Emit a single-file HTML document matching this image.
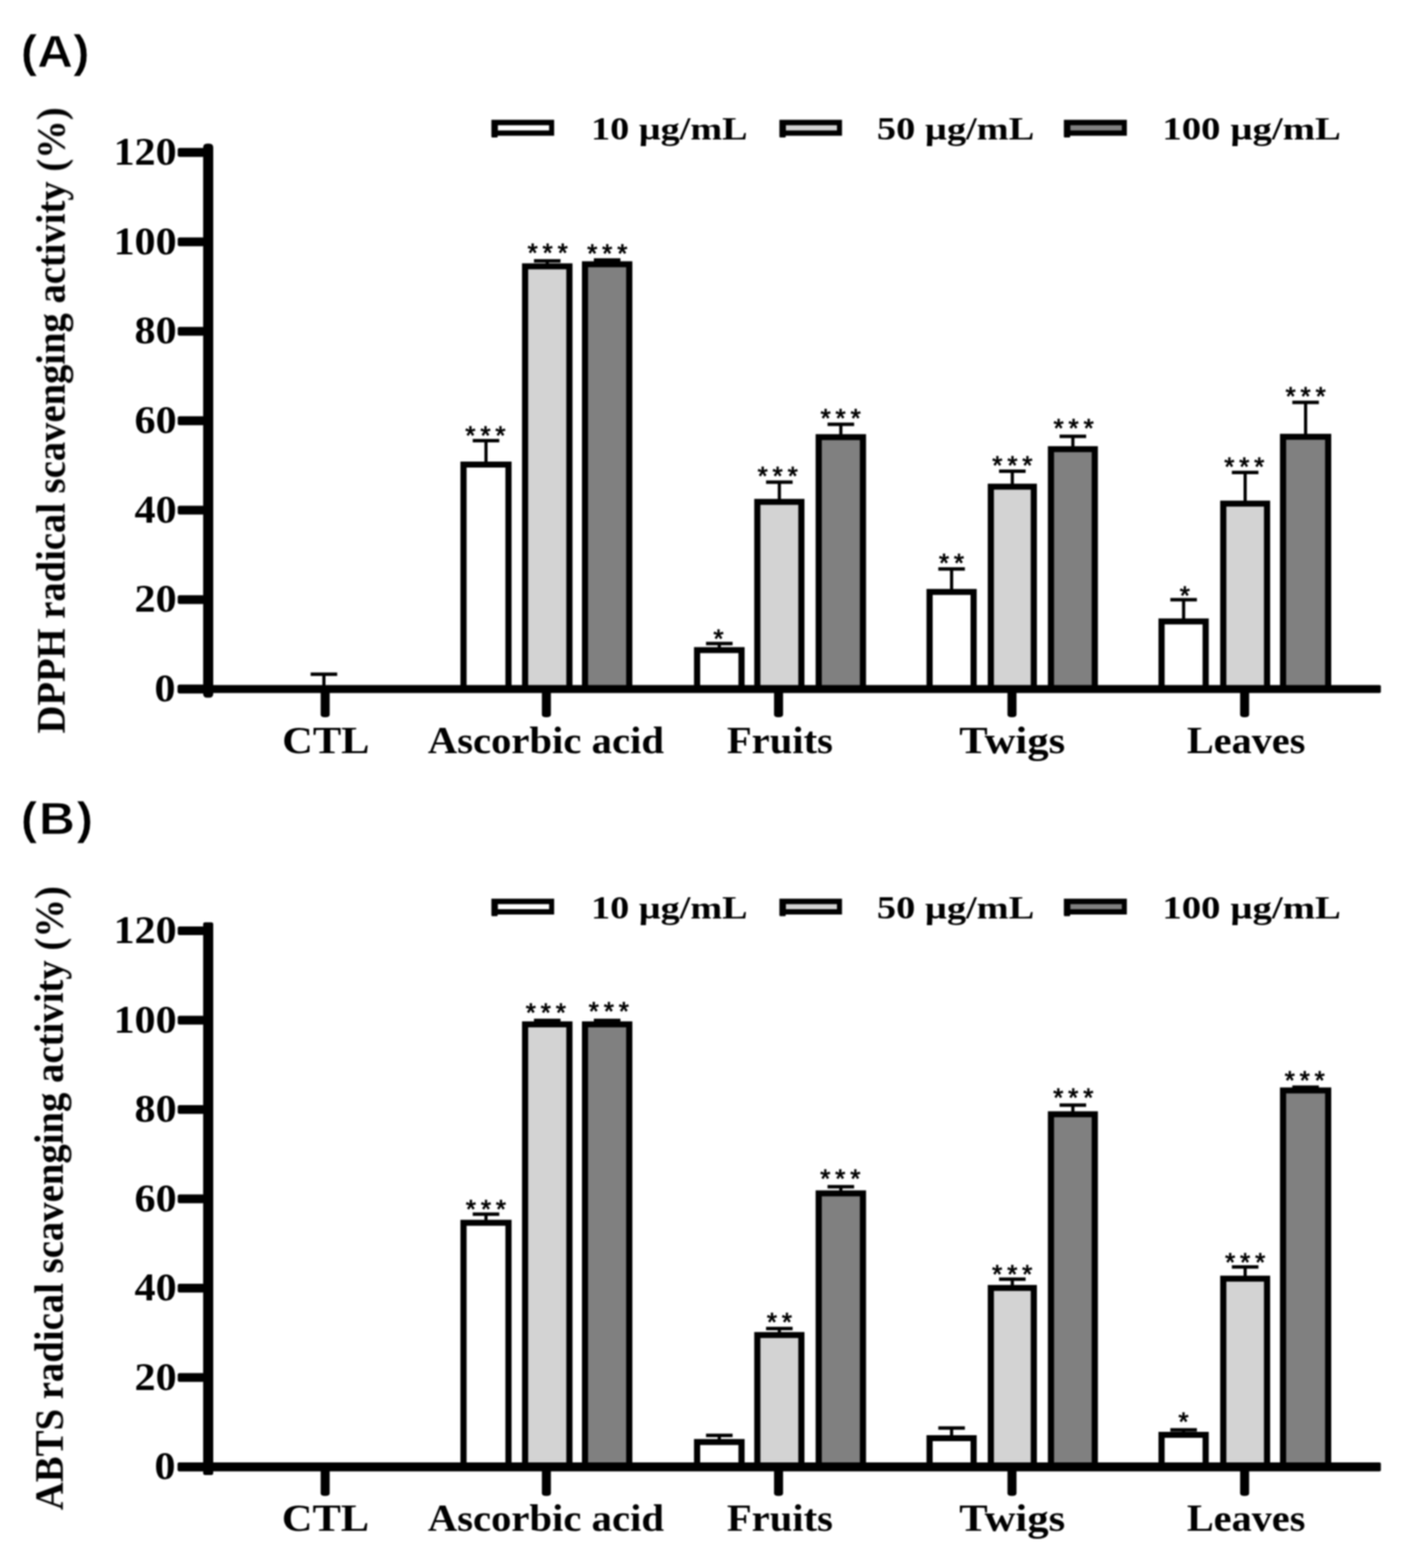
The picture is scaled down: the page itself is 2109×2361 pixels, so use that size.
<!DOCTYPE html>
<html lang="en">
<head>
<meta charset="utf-8">
<title>DPPH and ABTS radical scavenging activity</title>
<style>
html,body{margin:0;padding:0;background:#fff;}
body{width:2109px;height:2361px;overflow:hidden;}
svg{display:block;}
text{white-space:pre;}
</style>
</head>
<body>
<svg width="2109" height="2361" viewBox="0 0 2109 2361">
<rect x="0" y="0" width="2109" height="2361" fill="#fff"/>
<defs><filter id="soft" x="0" y="0" width="2109" height="2361" filterUnits="userSpaceOnUse" color-interpolation-filters="sRGB"><feGaussianBlur stdDeviation="0.85"/></filter></defs>
<g id="fig" filter="url(#soft)">
<rect x="729.20" y="663.50" width="4.80" height="33.50" fill="#000"/>
<rect x="711.60" y="660.90" width="40.00" height="5.20" fill="#000"/>
<rect x="693.10" y="695.00" width="77.00" height="342.50" fill="#000"/>
<rect x="702.40" y="704.00" width="58.40" height="333.50" fill="#fff"/>
<text transform="translate(700.59 668.69) scale(1.0000 1.0000)" font-family="'Liberation Sans', sans-serif" font-weight="normal" font-size="39" letter-spacing="7.43" fill="#000" stroke="#000" stroke-width="1.1" stroke-linejoin="round">***</text>
<rect x="821.40" y="392.80" width="4.80" height="5.70" fill="#000"/>
<rect x="803.80" y="390.20" width="40.00" height="5.20" fill="#000"/>
<rect x="785.80" y="396.50" width="76.00" height="641.00" fill="#000"/>
<rect x="795.10" y="405.50" width="57.40" height="632.00" fill="#d3d3d3"/>
<text transform="translate(794.19 394.48) scale(1.0000 1.0000)" font-family="'Liberation Sans', sans-serif" font-weight="normal" font-size="39" letter-spacing="7.43" fill="#000" stroke="#000" stroke-width="1.1" stroke-linejoin="round">***</text>
<rect x="911.55" y="391.50" width="4.80" height="3.90" fill="#000"/>
<rect x="893.95" y="388.90" width="40.00" height="5.20" fill="#000"/>
<rect x="876.00" y="393.40" width="75.90" height="644.10" fill="#000"/>
<rect x="885.30" y="402.40" width="57.30" height="635.10" fill="#808080"/>
<text transform="translate(884.00 395.48) scale(1.0000 1.0000)" font-family="'Liberation Sans', sans-serif" font-weight="normal" font-size="39" letter-spacing="7.43" fill="#000" stroke="#000" stroke-width="1.1" stroke-linejoin="round">***</text>
<rect x="1080.40" y="969.00" width="4.80" height="7.40" fill="#000"/>
<rect x="1062.80" y="966.40" width="40.00" height="5.20" fill="#000"/>
<rect x="1044.70" y="974.40" width="76.20" height="63.10" fill="#000"/>
<rect x="1054.00" y="983.40" width="57.60" height="54.10" fill="#fff"/>
<text transform="translate(1074.10 975.09) scale(1.0000 1.0000)" font-family="'Liberation Sans', sans-serif" font-weight="normal" font-size="39" letter-spacing="7.43" fill="#000" stroke="#000" stroke-width="1.1" stroke-linejoin="round">*</text>
<rect x="1170.80" y="726.00" width="4.80" height="27.20" fill="#000"/>
<rect x="1153.20" y="723.40" width="40.00" height="5.20" fill="#000"/>
<rect x="1135.40" y="751.20" width="75.60" height="286.30" fill="#000"/>
<rect x="1144.70" y="760.20" width="57.00" height="277.30" fill="#d3d3d3"/>
<text transform="translate(1140.50 729.59) scale(1.0000 1.0000)" font-family="'Liberation Sans', sans-serif" font-weight="normal" font-size="39" letter-spacing="7.43" fill="#000" stroke="#000" stroke-width="1.1" stroke-linejoin="round">***</text>
<rect x="1263.35" y="638.90" width="4.80" height="16.80" fill="#000"/>
<rect x="1245.75" y="636.30" width="40.00" height="5.20" fill="#000"/>
<rect x="1227.80" y="653.70" width="75.90" height="383.80" fill="#000"/>
<rect x="1237.10" y="662.70" width="57.30" height="374.80" fill="#808080"/>
<text transform="translate(1235.20 643.09) scale(1.0000 1.0000)" font-family="'Liberation Sans', sans-serif" font-weight="normal" font-size="39" letter-spacing="7.43" fill="#000" stroke="#000" stroke-width="1.1" stroke-linejoin="round">***</text>
<rect x="1430.10" y="856.70" width="4.80" height="32.10" fill="#000"/>
<rect x="1412.50" y="854.10" width="40.00" height="5.20" fill="#000"/>
<rect x="1394.70" y="886.80" width="75.60" height="150.70" fill="#000"/>
<rect x="1404.00" y="895.80" width="57.00" height="141.70" fill="#fff"/>
<text transform="translate(1413.50 860.79) scale(1.0000 1.0000)" font-family="'Liberation Sans', sans-serif" font-weight="normal" font-size="39" letter-spacing="7.43" fill="#000" stroke="#000" stroke-width="1.1" stroke-linejoin="round">**</text>
<rect x="1521.50" y="709.50" width="4.80" height="20.80" fill="#000"/>
<rect x="1503.90" y="706.90" width="40.00" height="5.20" fill="#000"/>
<rect x="1486.90" y="728.30" width="74.00" height="309.20" fill="#000"/>
<rect x="1496.20" y="737.30" width="55.40" height="300.20" fill="#d3d3d3"/>
<text transform="translate(1493.80 713.79) scale(1.0000 1.0000)" font-family="'Liberation Sans', sans-serif" font-weight="normal" font-size="39" letter-spacing="7.43" fill="#000" stroke="#000" stroke-width="1.1" stroke-linejoin="round">***</text>
<rect x="1612.65" y="657.00" width="4.80" height="16.80" fill="#000"/>
<rect x="1595.05" y="654.40" width="40.00" height="5.20" fill="#000"/>
<rect x="1577.40" y="671.80" width="75.30" height="365.70" fill="#000"/>
<rect x="1586.70" y="680.80" width="56.70" height="356.70" fill="#808080"/>
<text transform="translate(1586.00 657.79) scale(1.0000 1.0000)" font-family="'Liberation Sans', sans-serif" font-weight="normal" font-size="39" letter-spacing="7.43" fill="#000" stroke="#000" stroke-width="1.1" stroke-linejoin="round">***</text>
<rect x="1779.35" y="903.00" width="4.80" height="30.20" fill="#000"/>
<rect x="1761.75" y="900.40" width="40.00" height="5.20" fill="#000"/>
<rect x="1743.90" y="931.20" width="75.70" height="106.30" fill="#000"/>
<rect x="1753.20" y="940.20" width="57.10" height="97.30" fill="#fff"/>
<text transform="translate(1775.89 910.09) scale(1.0000 1.0000)" font-family="'Liberation Sans', sans-serif" font-weight="normal" font-size="39" letter-spacing="7.43" fill="#000" stroke="#000" stroke-width="1.1" stroke-linejoin="round">*</text>
<rect x="1872.00" y="711.40" width="4.80" height="44.40" fill="#000"/>
<rect x="1854.40" y="708.80" width="40.00" height="5.20" fill="#000"/>
<rect x="1836.80" y="753.80" width="75.20" height="283.70" fill="#000"/>
<rect x="1846.10" y="762.80" width="56.60" height="274.70" fill="#d3d3d3"/>
<text transform="translate(1842.89 716.29) scale(1.0000 1.0000)" font-family="'Liberation Sans', sans-serif" font-weight="normal" font-size="39" letter-spacing="7.43" fill="#000" stroke="#000" stroke-width="1.1" stroke-linejoin="round">***</text>
<rect x="1963.00" y="605.90" width="4.80" height="49.30" fill="#000"/>
<rect x="1945.40" y="603.30" width="40.00" height="5.20" fill="#000"/>
<rect x="1926.80" y="653.20" width="77.20" height="384.30" fill="#000"/>
<rect x="1936.10" y="662.20" width="58.60" height="375.30" fill="#808080"/>
<text transform="translate(1935.20 609.88) scale(1.0000 1.0000)" font-family="'Liberation Sans', sans-serif" font-weight="normal" font-size="39" letter-spacing="7.43" fill="#000" stroke="#000" stroke-width="1.1" stroke-linejoin="round">***</text>
<rect x="485.20" y="1015.20" width="4.80" height="24.30" fill="#000"/>
<rect x="467.60" y="1012.60" width="40.00" height="5.20" fill="#000"/>
<path d="M305.8 222.3 Q305.8 216.3 311.8 216.3 H315.0 Q321.0 216.3 321.0 222.3 V1044.6 Q321.0 1050.6 315.0 1050.6 H311.8 Q305.8 1050.6 305.8 1044.6 Z" fill="#000"/>
<rect x="267.50" y="1031.40" width="1811.20" height="12.20" fill="#000" rx="2"/>
<rect x="267.50" y="222.80" width="40.30" height="13.40" fill="#000" rx="3"/>
<text transform="translate(170.90 248.10) scale(1.0750 1)" font-family="'Liberation Serif', serif" font-weight="bold" font-size="59" fill="#000">120</text>
<rect x="267.50" y="357.47" width="40.30" height="13.40" fill="#000" rx="3"/>
<text transform="translate(170.90 382.77) scale(1.0750 1)" font-family="'Liberation Serif', serif" font-weight="bold" font-size="59" fill="#000">100</text>
<rect x="267.50" y="492.13" width="40.30" height="13.40" fill="#000" rx="3"/>
<text transform="translate(202.61 517.43) scale(1.0750 1)" font-family="'Liberation Serif', serif" font-weight="bold" font-size="59" fill="#000">80</text>
<rect x="267.50" y="626.80" width="40.30" height="13.40" fill="#000" rx="3"/>
<text transform="translate(202.61 652.10) scale(1.0750 1)" font-family="'Liberation Serif', serif" font-weight="bold" font-size="59" fill="#000">60</text>
<rect x="267.50" y="761.47" width="40.30" height="13.40" fill="#000" rx="3"/>
<text transform="translate(202.61 786.77) scale(1.0750 1)" font-family="'Liberation Serif', serif" font-weight="bold" font-size="59" fill="#000">40</text>
<rect x="267.50" y="896.13" width="40.30" height="13.40" fill="#000" rx="3"/>
<text transform="translate(202.61 921.43) scale(1.0750 1)" font-family="'Liberation Serif', serif" font-weight="bold" font-size="59" fill="#000">20</text>
<rect x="267.50" y="1030.80" width="40.30" height="13.40" fill="#000" rx="3"/>
<text transform="translate(232.62 1056.10) scale(1.0750 1)" font-family="'Liberation Serif', serif" font-weight="bold" font-size="59" fill="#000">0</text>
<path d="M482.70 1037.5 H496.30 V1076.00 Q496.30 1080.00 489.50 1080.00 Q482.70 1080.00 482.70 1076.00 Z" fill="#000"/>
<text transform="translate(424.80 1133.50) scale(1.1118 1)" font-family="'Liberation Serif', serif" font-weight="bold" font-size="57.5" fill="#000">CTL</text>
<path d="M815.70 1037.5 H829.30 V1076.00 Q829.30 1080.00 822.50 1080.00 Q815.70 1080.00 815.70 1076.00 Z" fill="#000"/>
<text transform="translate(643.89 1133.50) scale(1.0654 1)" font-family="'Liberation Serif', serif" font-weight="bold" font-size="57.5" fill="#000">Ascorbic acid</text>
<path d="M1165.20 1037.5 H1178.80 V1076.00 Q1178.80 1080.00 1172.00 1080.00 Q1165.20 1080.00 1165.20 1076.00 Z" fill="#000"/>
<text transform="translate(1094.18 1133.50) scale(1.0638 1)" font-family="'Liberation Serif', serif" font-weight="bold" font-size="57.5" fill="#000">Fruits</text>
<path d="M1516.60 1037.5 H1530.20 V1076.00 Q1530.20 1080.00 1523.40 1080.00 Q1516.60 1080.00 1516.60 1076.00 Z" fill="#000"/>
<text transform="translate(1444.12 1133.50) scale(1.1169 1)" font-family="'Liberation Serif', serif" font-weight="bold" font-size="57.5" fill="#000">Twigs</text>
<path d="M1866.80 1037.5 H1880.40 V1076.00 Q1880.40 1080.00 1873.60 1080.00 Q1866.80 1080.00 1866.80 1076.00 Z" fill="#000"/>
<text transform="translate(1786.69 1133.50) scale(1.0537 1)" font-family="'Liberation Serif', serif" font-weight="bold" font-size="57.5" fill="#000">Leaves</text>
<rect x="739.70" y="180.40" width="94.50" height="24.00" fill="#000"/>
<rect x="739.70" y="203.40" width="9.50" height="3.60" fill="#000" rx="1.5"/>
<rect x="749.50" y="188.60" width="77.10" height="7.80" fill="#fff"/>
<text transform="translate(889.71 209.80) scale(1.1722 1)" font-family="'Liberation Serif', serif" font-weight="bold" font-size="49" fill="#000">10 µg/mL</text>
<rect x="1173.30" y="180.40" width="94.20" height="24.00" fill="#000"/>
<rect x="1173.30" y="203.40" width="9.50" height="3.60" fill="#000" rx="1.5"/>
<rect x="1183.10" y="188.60" width="76.80" height="7.80" fill="#d3d3d3"/>
<text transform="translate(1320.09 209.80) scale(1.1778 1)" font-family="'Liberation Serif', serif" font-weight="bold" font-size="49" fill="#000">50 µg/mL</text>
<rect x="1601.50" y="180.40" width="94.80" height="24.00" fill="#000"/>
<rect x="1601.50" y="203.40" width="9.50" height="3.60" fill="#000" rx="1.5"/>
<rect x="1611.30" y="188.60" width="77.40" height="7.80" fill="#808080"/>
<text transform="translate(1749.73 209.80) scale(1.1917 1)" font-family="'Liberation Serif', serif" font-weight="bold" font-size="49" fill="#000">100 µg/mL</text>
<text transform="translate(97.00 1104.46) rotate(-90) scale(1.0112 1.0500)" font-family="'Liberation Serif', serif" font-weight="bold" font-size="57.5" fill="#000">DPPH radical scavenging activity (%)</text>
<text transform="translate(31.27 101.10) scale(1.0808 1)" font-family="'Liberation Sans', sans-serif" font-weight="bold" font-size="69" fill="#000" stroke="#fff" stroke-width="1.0">(A)</text>
<rect x="729.20" y="1828.20" width="4.80" height="10.50" fill="#000"/>
<rect x="711.60" y="1825.60" width="40.00" height="5.20" fill="#000"/>
<rect x="693.10" y="1836.70" width="77.00" height="372.00" fill="#000"/>
<rect x="702.40" y="1845.70" width="58.40" height="363.00" fill="#fff"/>
<text transform="translate(701.29 1833.88) scale(1.0000 1.0000)" font-family="'Liberation Sans', sans-serif" font-weight="normal" font-size="39" letter-spacing="7.43" fill="#000" stroke="#000" stroke-width="1.1" stroke-linejoin="round">***</text>
<rect x="821.40" y="1536.50" width="4.80" height="3.40" fill="#000"/>
<rect x="803.80" y="1533.90" width="40.00" height="5.20" fill="#000"/>
<rect x="785.80" y="1537.90" width="76.00" height="670.80" fill="#000"/>
<rect x="795.10" y="1546.90" width="57.40" height="661.80" fill="#d3d3d3"/>
<text transform="translate(791.50 1538.38) scale(1.0000 1.0000)" font-family="'Liberation Sans', sans-serif" font-weight="normal" font-size="39" letter-spacing="7.43" fill="#000" stroke="#000" stroke-width="1.1" stroke-linejoin="round">***</text>
<rect x="911.55" y="1536.50" width="4.80" height="3.40" fill="#000"/>
<rect x="893.95" y="1533.90" width="40.00" height="5.20" fill="#000"/>
<rect x="876.00" y="1537.90" width="75.90" height="670.80" fill="#000"/>
<rect x="885.30" y="1546.90" width="57.30" height="661.80" fill="#808080"/>
<text transform="translate(886.29 1536.09) scale(1.0000 1.0000)" font-family="'Liberation Sans', sans-serif" font-weight="normal" font-size="39" letter-spacing="7.43" fill="#000" stroke="#000" stroke-width="1.1" stroke-linejoin="round">***</text>
<rect x="1080.40" y="2161.30" width="4.80" height="7.50" fill="#000"/>
<rect x="1062.80" y="2158.70" width="40.00" height="5.20" fill="#000"/>
<rect x="1044.70" y="2166.80" width="76.20" height="41.90" fill="#000"/>
<rect x="1054.00" y="2175.80" width="57.60" height="32.90" fill="#fff"/>
<rect x="1170.80" y="2000.40" width="4.80" height="7.30" fill="#000"/>
<rect x="1153.20" y="1997.80" width="40.00" height="5.20" fill="#000"/>
<rect x="1135.40" y="2005.70" width="75.60" height="203.00" fill="#000"/>
<rect x="1144.70" y="2014.70" width="57.00" height="194.00" fill="#d3d3d3"/>
<text transform="translate(1154.50 2004.09) scale(1.0000 1.0000)" font-family="'Liberation Sans', sans-serif" font-weight="normal" font-size="39" letter-spacing="7.43" fill="#000" stroke="#000" stroke-width="1.1" stroke-linejoin="round">**</text>
<rect x="1263.35" y="1786.90" width="4.80" height="7.50" fill="#000"/>
<rect x="1245.75" y="1784.30" width="40.00" height="5.20" fill="#000"/>
<rect x="1227.80" y="1792.40" width="75.90" height="416.30" fill="#000"/>
<rect x="1237.10" y="1801.40" width="57.30" height="407.30" fill="#808080"/>
<text transform="translate(1234.70 1788.29) scale(1.0000 1.0000)" font-family="'Liberation Sans', sans-serif" font-weight="normal" font-size="39" letter-spacing="7.43" fill="#000" stroke="#000" stroke-width="1.1" stroke-linejoin="round">***</text>
<rect x="1430.10" y="2150.20" width="4.80" height="12.80" fill="#000"/>
<rect x="1412.50" y="2147.60" width="40.00" height="5.20" fill="#000"/>
<rect x="1394.70" y="2161.00" width="75.60" height="47.70" fill="#000"/>
<rect x="1404.00" y="2170.00" width="57.00" height="38.70" fill="#fff"/>
<rect x="1521.50" y="1926.10" width="4.80" height="10.70" fill="#000"/>
<rect x="1503.90" y="1923.50" width="40.00" height="5.20" fill="#000"/>
<rect x="1486.90" y="1934.80" width="74.00" height="273.90" fill="#000"/>
<rect x="1496.20" y="1943.80" width="55.40" height="264.90" fill="#d3d3d3"/>
<text transform="translate(1493.60 1932.29) scale(1.0000 1.0000)" font-family="'Liberation Sans', sans-serif" font-weight="normal" font-size="39" letter-spacing="7.43" fill="#000" stroke="#000" stroke-width="1.1" stroke-linejoin="round">***</text>
<rect x="1612.65" y="1664.00" width="4.80" height="11.30" fill="#000"/>
<rect x="1595.05" y="1661.40" width="40.00" height="5.20" fill="#000"/>
<rect x="1577.40" y="1673.30" width="75.30" height="535.40" fill="#000"/>
<rect x="1586.70" y="1682.30" width="56.70" height="526.40" fill="#808080"/>
<text transform="translate(1585.50 1665.99) scale(1.0000 1.0000)" font-family="'Liberation Sans', sans-serif" font-weight="normal" font-size="39" letter-spacing="7.43" fill="#000" stroke="#000" stroke-width="1.1" stroke-linejoin="round">***</text>
<rect x="1779.35" y="2153.00" width="4.80" height="5.00" fill="#000"/>
<rect x="1761.75" y="2150.40" width="40.00" height="5.20" fill="#000"/>
<rect x="1743.90" y="2156.00" width="75.70" height="52.70" fill="#000"/>
<rect x="1753.20" y="2165.00" width="57.10" height="43.70" fill="#fff"/>
<text transform="translate(1773.89 2154.39) scale(1.0000 1.0000)" font-family="'Liberation Sans', sans-serif" font-weight="normal" font-size="39" letter-spacing="7.43" fill="#000" stroke="#000" stroke-width="1.1" stroke-linejoin="round">*</text>
<rect x="1872.00" y="1907.70" width="4.80" height="15.10" fill="#000"/>
<rect x="1854.40" y="1905.10" width="40.00" height="5.20" fill="#000"/>
<rect x="1836.80" y="1920.80" width="75.20" height="287.90" fill="#000"/>
<rect x="1846.10" y="1929.80" width="56.60" height="278.90" fill="#d3d3d3"/>
<text transform="translate(1844.20 1914.38) scale(1.0000 1.0000)" font-family="'Liberation Sans', sans-serif" font-weight="normal" font-size="39" letter-spacing="7.43" fill="#000" stroke="#000" stroke-width="1.1" stroke-linejoin="round">***</text>
<rect x="1963.00" y="1637.00" width="4.80" height="2.40" fill="#000"/>
<rect x="1945.40" y="1634.40" width="40.00" height="5.20" fill="#000"/>
<rect x="1926.80" y="1637.40" width="77.20" height="571.30" fill="#000"/>
<rect x="1936.10" y="1646.40" width="58.60" height="562.30" fill="#808080"/>
<text transform="translate(1933.89 1640.49) scale(1.0000 1.0000)" font-family="'Liberation Sans', sans-serif" font-weight="normal" font-size="39" letter-spacing="7.43" fill="#000" stroke="#000" stroke-width="1.1" stroke-linejoin="round">***</text>
<path d="M305.8 1391.8 Q305.8 1388.8 308.8 1388.8 H318.0 Q321.0 1388.8 321.0 1391.8 V2217.9 Q321.0 2220.9 318.0 2220.9 H308.8 Q305.8 2220.9 305.8 2217.9 Z" fill="#000"/>
<rect x="267.50" y="2201.90" width="1811.20" height="13.60" fill="#000" rx="2"/>
<rect x="267.50" y="1394.90" width="40.30" height="13.20" fill="#000" rx="3"/>
<text transform="translate(170.90 1420.10) scale(1.0750 1)" font-family="'Liberation Serif', serif" font-weight="bold" font-size="59" fill="#000">120</text>
<rect x="267.50" y="1529.43" width="40.30" height="13.20" fill="#000" rx="3"/>
<text transform="translate(170.90 1554.63) scale(1.0750 1)" font-family="'Liberation Serif', serif" font-weight="bold" font-size="59" fill="#000">100</text>
<rect x="267.50" y="1663.97" width="40.30" height="13.20" fill="#000" rx="3"/>
<text transform="translate(202.61 1689.17) scale(1.0750 1)" font-family="'Liberation Serif', serif" font-weight="bold" font-size="59" fill="#000">80</text>
<rect x="267.50" y="1798.50" width="40.30" height="13.20" fill="#000" rx="3"/>
<text transform="translate(202.61 1823.70) scale(1.0750 1)" font-family="'Liberation Serif', serif" font-weight="bold" font-size="59" fill="#000">60</text>
<rect x="267.50" y="1933.03" width="40.30" height="13.20" fill="#000" rx="3"/>
<text transform="translate(202.61 1958.23) scale(1.0750 1)" font-family="'Liberation Serif', serif" font-weight="bold" font-size="59" fill="#000">40</text>
<rect x="267.50" y="2067.57" width="40.30" height="13.20" fill="#000" rx="3"/>
<text transform="translate(202.61 2092.77) scale(1.0750 1)" font-family="'Liberation Serif', serif" font-weight="bold" font-size="59" fill="#000">20</text>
<rect x="267.50" y="2202.10" width="40.30" height="13.20" fill="#000" rx="3"/>
<text transform="translate(232.62 2227.30) scale(1.0750 1)" font-family="'Liberation Serif', serif" font-weight="bold" font-size="59" fill="#000">0</text>
<path d="M482.70 2208.7 H496.30 V2248.50 Q496.30 2252.50 489.50 2252.50 Q482.70 2252.50 482.70 2248.50 Z" fill="#000"/>
<text transform="translate(424.31 2305.20) scale(1.1100 1)" font-family="'Liberation Serif', serif" font-weight="bold" font-size="57.5" fill="#000">CTL</text>
<path d="M815.70 2208.7 H829.30 V2248.50 Q829.30 2252.50 822.50 2252.50 Q815.70 2252.50 815.70 2248.50 Z" fill="#000"/>
<text transform="translate(643.89 2305.20) scale(1.0654 1)" font-family="'Liberation Serif', serif" font-weight="bold" font-size="57.5" fill="#000">Ascorbic acid</text>
<path d="M1165.20 2208.7 H1178.80 V2248.50 Q1178.80 2252.50 1172.00 2252.50 Q1165.20 2252.50 1165.20 2248.50 Z" fill="#000"/>
<text transform="translate(1094.18 2305.20) scale(1.0638 1)" font-family="'Liberation Serif', serif" font-weight="bold" font-size="57.5" fill="#000">Fruits</text>
<path d="M1516.60 2208.7 H1530.20 V2248.50 Q1530.20 2252.50 1523.40 2252.50 Q1516.60 2252.50 1516.60 2248.50 Z" fill="#000"/>
<text transform="translate(1444.12 2305.20) scale(1.1169 1)" font-family="'Liberation Serif', serif" font-weight="bold" font-size="57.5" fill="#000">Twigs</text>
<path d="M1866.80 2208.7 H1880.40 V2248.50 Q1880.40 2252.50 1873.60 2252.50 Q1866.80 2252.50 1866.80 2248.50 Z" fill="#000"/>
<text transform="translate(1786.69 2305.20) scale(1.0537 1)" font-family="'Liberation Serif', serif" font-weight="bold" font-size="57.5" fill="#000">Leaves</text>
<rect x="739.70" y="1353.20" width="94.50" height="23.80" fill="#000"/>
<rect x="739.70" y="1376.00" width="9.50" height="3.60" fill="#000" rx="1.5"/>
<rect x="749.50" y="1361.40" width="77.10" height="7.60" fill="#fff"/>
<text transform="translate(889.71 1382.80) scale(1.1722 1)" font-family="'Liberation Serif', serif" font-weight="bold" font-size="49" fill="#000">10 µg/mL</text>
<rect x="1173.30" y="1353.20" width="94.20" height="23.80" fill="#000"/>
<rect x="1173.30" y="1376.00" width="9.50" height="3.60" fill="#000" rx="1.5"/>
<rect x="1183.10" y="1361.40" width="76.80" height="7.60" fill="#d3d3d3"/>
<text transform="translate(1320.09 1382.80) scale(1.1778 1)" font-family="'Liberation Serif', serif" font-weight="bold" font-size="49" fill="#000">50 µg/mL</text>
<rect x="1601.50" y="1353.20" width="94.80" height="23.80" fill="#000"/>
<rect x="1601.50" y="1376.00" width="9.50" height="3.60" fill="#000" rx="1.5"/>
<rect x="1611.30" y="1361.40" width="77.40" height="7.60" fill="#808080"/>
<text transform="translate(1749.73 1382.80) scale(1.1917 1)" font-family="'Liberation Serif', serif" font-weight="bold" font-size="49" fill="#000">100 µg/mL</text>
<text transform="translate(94.20 2273.88) rotate(-90) scale(1.0145 1.0500)" font-family="'Liberation Serif', serif" font-weight="bold" font-size="57.5" fill="#000">ABTS radical scavenging activity (%)</text>
<text transform="translate(31.26 1255.50) scale(1.0830 1)" font-family="'Liberation Sans', sans-serif" font-weight="bold" font-size="69" letter-spacing="2.40" fill="#000" stroke="#fff" stroke-width="1.0">(B)</text>
</g>
</svg>
</body>
</html>
